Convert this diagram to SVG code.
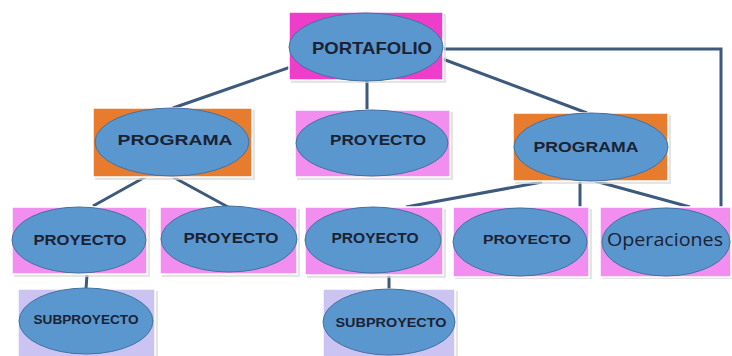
<svg xmlns="http://www.w3.org/2000/svg" width="732" height="356" viewBox="0 0 732 356">
<defs>
<style>
.sh{fill:#d9d9d9;opacity:0.7}
.bx{stroke:#ffffff;stroke-width:1.5}
.mag{fill:#ee3ccb}
.org{fill:#e77b2e}
.pnk{fill:#f28ef0}
.lav{fill:#cbc3f2}
.el{fill:#5a97cf;stroke:#4272a0;stroke-width:1}
.t{font-family:"Liberation Sans",Arial,sans-serif;font-weight:bold;fill:#1b2233;text-anchor:middle;dominant-baseline:central}
.tn{font-family:"Open Sans","Liberation Sans",Arial,sans-serif;font-weight:normal;fill:#1b2233;text-anchor:middle;dominant-baseline:central}
.c{stroke:#3d5a7c;stroke-width:3;fill:none}
</style>
</defs>
<g id="connectors">
<polyline class="c" points="443,49 721,49 721,207"/>
<line class="c" x1="305" y1="62" x2="173" y2="108"/>
<line class="c" x1="367" y1="80" x2="367" y2="110"/>
<line class="c" x1="440" y1="58" x2="587" y2="113"/>
<line class="c" x1="147" y1="176" x2="93" y2="206"/>
<line class="c" x1="173" y1="177" x2="228" y2="207"/>
<line class="c" x1="542" y1="182" x2="406" y2="207"/>
<line class="c" x1="580" y1="181" x2="580" y2="207"/>
<line class="c" x1="595" y1="181" x2="690" y2="207"/>
<line class="c" x1="87" y1="275" x2="86" y2="289"/>
<line class="c" x1="389" y1="275" x2="389" y2="289"/>
</g>
<g id="portafolio">
<rect class="sh" x="291" y="14" width="155" height="69"/>
<rect class="bx mag" x="289" y="12" width="154" height="68"/>
<ellipse class="el" cx="366" cy="47" rx="77" ry="34"/>
<text class="t" x="372" y="48" font-size="17" textLength="120" lengthAdjust="spacingAndGlyphs">PORTAFOLIO</text>
</g>
<g id="programa1">
<rect class="sh" x="95" y="110" width="160" height="70"/>
<rect class="bx org" x="93" y="108" width="159" height="69"/>
<ellipse class="el" cx="172" cy="142" rx="77" ry="34"/>
<text class="t" x="175" y="139" font-size="15" textLength="115" lengthAdjust="spacingAndGlyphs">PROGRAMA</text>
</g>
<g id="proyecto0">
<rect class="sh" x="297" y="112" width="156" height="68"/>
<rect class="bx pnk" x="295" y="110" width="155" height="67"/>
<ellipse class="el" cx="372" cy="143" rx="76" ry="33"/>
<text class="t" x="378" y="140" font-size="14" textLength="96" lengthAdjust="spacingAndGlyphs">PROYECTO</text>
</g>
<g id="programa2">
<rect class="sh" x="515" y="115" width="156" height="69"/>
<rect class="bx org" x="513" y="113" width="155" height="68"/>
<ellipse class="el" cx="591" cy="147" rx="77" ry="34"/>
<text class="t" x="586" y="147" font-size="14" textLength="105" lengthAdjust="spacingAndGlyphs">PROGRAMA</text>
</g>
<g id="proyecto1">
<rect class="sh" x="14" y="209" width="136" height="68"/>
<rect class="bx pnk" x="12" y="207" width="135" height="67"/>
<ellipse class="el" cx="79" cy="240" rx="67" ry="33"/>
<text class="t" x="80" y="240" font-size="14" textLength="93" lengthAdjust="spacingAndGlyphs">PROYECTO</text>
</g>
<g id="proyecto2">
<rect class="sh" x="162" y="209" width="138" height="68"/>
<rect class="bx pnk" x="160" y="207" width="137" height="67"/>
<ellipse class="el" cx="229" cy="239" rx="68" ry="33"/>
<text class="t" x="231" y="238" font-size="14" textLength="95" lengthAdjust="spacingAndGlyphs">PROYECTO</text>
</g>
<g id="proyecto3">
<rect class="sh" x="307" y="209" width="139" height="69"/>
<rect class="bx pnk" x="305" y="207" width="138" height="68"/>
<ellipse class="el" cx="373" cy="240" rx="68" ry="33"/>
<text class="t" x="375" y="238" font-size="14" textLength="87" lengthAdjust="spacingAndGlyphs">PROYECTO</text>
</g>
<g id="proyecto4">
<rect class="sh" x="455" y="209" width="137" height="70"/>
<rect class="bx pnk" x="453" y="207" width="136" height="70"/>
<ellipse class="el" cx="520" cy="242" rx="67" ry="34"/>
<text class="t" x="527" y="239" font-size="13" textLength="88" lengthAdjust="spacingAndGlyphs">PROYECTO</text>
</g>
<g id="operaciones">
<rect class="sh" x="602" y="209" width="132" height="70"/>
<rect class="bx pnk" x="600" y="207" width="131" height="70"/>
<ellipse class="el" cx="666" cy="242" rx="64" ry="34"/>
<text class="tn" x="665" y="239" font-size="18" textLength="116" lengthAdjust="spacingAndGlyphs">Operaciones</text>
</g>
<g id="subproyecto1">
<rect class="sh" x="20" y="291" width="138" height="68"/>
<rect class="bx lav" x="18" y="289" width="137" height="68"/>
<ellipse class="el" cx="86" cy="321" rx="67" ry="33"/>
<text class="t" x="86" y="320" font-size="12" textLength="105" lengthAdjust="spacingAndGlyphs">SUBPROYECTO</text>
</g>
<g id="subproyecto2">
<rect class="sh" x="325" y="291" width="133" height="68"/>
<rect class="bx lav" x="323" y="289" width="132" height="68"/>
<ellipse class="el" cx="389" cy="322" rx="66" ry="33"/>
<text class="t" x="391" y="322" font-size="13" textLength="111" lengthAdjust="spacingAndGlyphs">SUBPROYECTO</text>
</g>
</svg>
